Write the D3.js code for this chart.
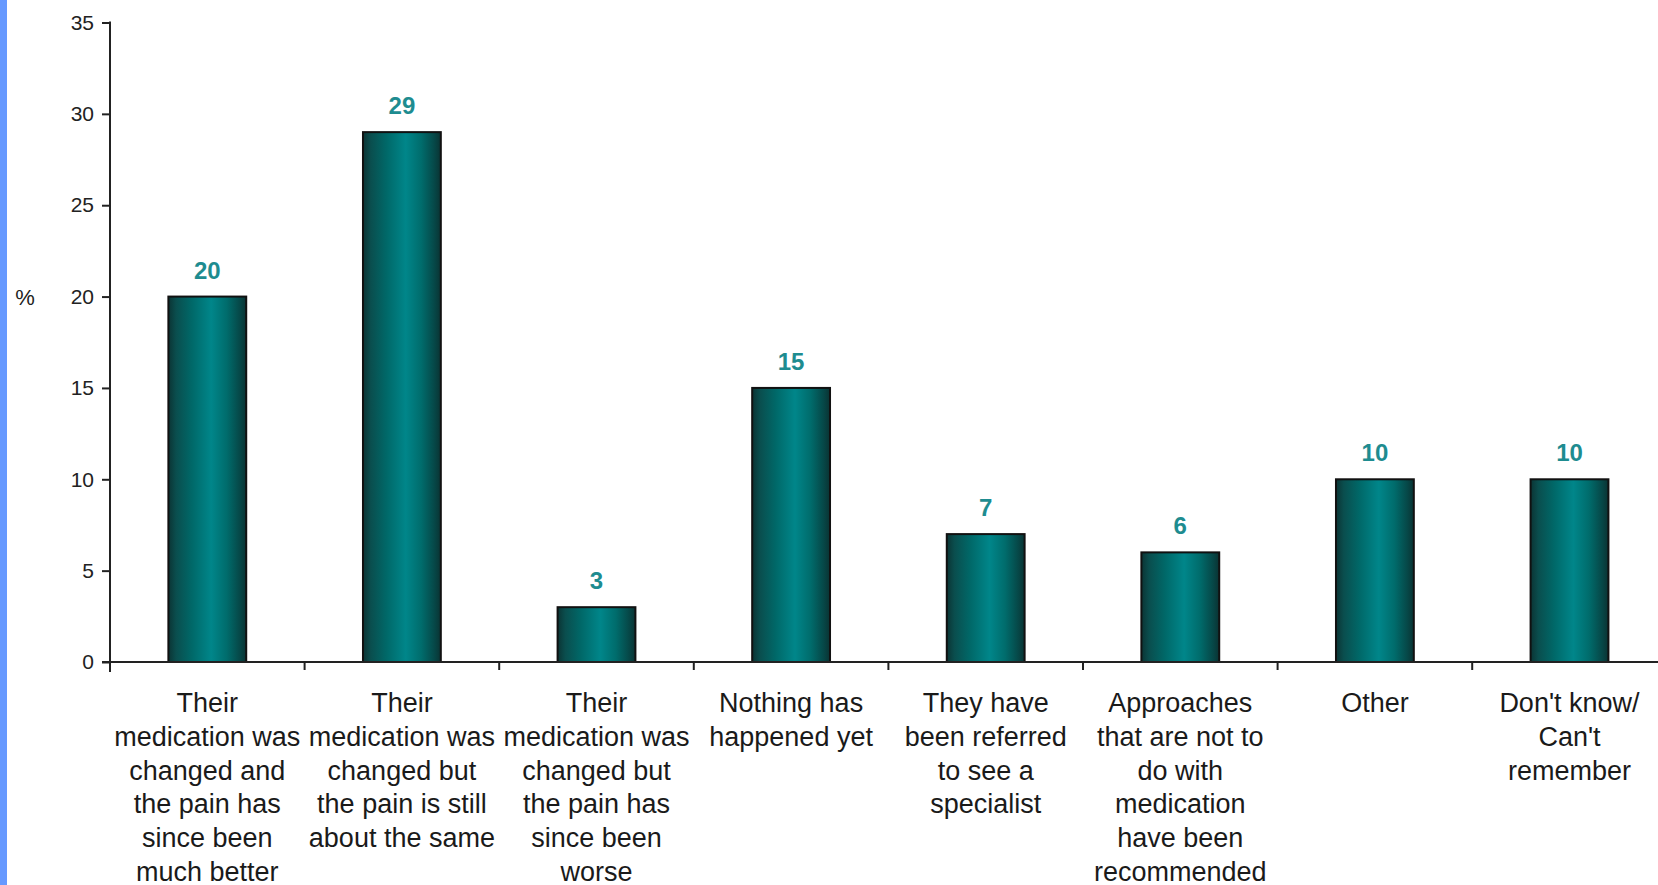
<!DOCTYPE html>
<html>
<head>
<meta charset="utf-8">
<script src="https://cdn.jsdelivr.net/npm/d3@7/dist/d3.min.js"></script>
<style>
  html, body { margin: 0; padding: 0; background: #fff; }
  svg { display: block; }
</style>
</head>
<body>
<script>
const categories = [
  ["Their", "medication was", "changed and", "the pain has", "since been", "much better"],
  ["Their", "medication was", "changed but", "the pain is still", "about the same"],
  ["Their", "medication was", "changed but", "the pain has", "since been", "worse"],
  ["Nothing has", "happened yet"],
  ["They have", "been referred", "to see a", "specialist"],
  ["Approaches", "that are not to", "do with", "medication", "have been", "recommended"],
  ["Other"],
  ["Don't know/", "Can't", "remember"]
];
const values = [20, 29, 3, 15, 7, 6, 10, 10];
const yTicks = [0, 5, 10, 15, 20, 25, 30, 35];
const yLabel = "%";

const W = 1658, H = 885;
const svg = d3.select("body").append("svg").attr("width", W).attr("height", H);
svg.append("rect").attr("width", W).attr("height", H).attr("fill", "#fff");
// left blue strip
svg.append("rect").attr("x", 0).attr("y", 0).attr("width", 7).attr("height", H).attr("fill", "#6699ff");

const x0 = 110, bandW = 194.6;
const x = d3.scaleBand().domain(d3.range(categories.length))
  .range([x0, x0 + bandW * categories.length]).padding(0);
const y = d3.scaleLinear().domain([0, 35]).range([662, 22.5]);

const defs = svg.append("defs");
const g = defs.append("linearGradient").attr("id", "barGrad")
  .attr("x1", "0%").attr("x2", "100%").attr("y1", "0%").attr("y2", "0%");
[[0, "#0b3434"], [0.1, "#0a4e4e"], [0.3, "#006868"], [0.55, "#00868a"],
 [0.75, "#006c6c"], [0.92, "#064747"], [1, "#0a3333"]].forEach(([o, c]) =>
  g.append("stop").attr("offset", o).attr("stop-color", c));

// y axis
const yAxis = d3.axisLeft(y).tickValues(yTicks).tickSize(8).tickPadding(8);
const ya = svg.append("g").attr("transform", `translate(${x0},0)`).call(yAxis);
ya.select(".domain").remove();
ya.selectAll(".tick line").attr("stroke", "#222").attr("stroke-width", 2);
ya.selectAll(".tick text").attr("fill", "#222")
  .style("font-family", "Liberation Sans, Arial, sans-serif").style("font-size", "21px");
svg.append("line").attr("x1", x0).attr("x2", x0)
  .attr("y1", y(35) - 1).attr("y2", y(0) + 10)
  .attr("stroke", "#222").attr("stroke-width", 2);

svg.append("text").attr("x", 25).attr("y", y(20) + 8).attr("text-anchor", "middle")
  .attr("fill", "#222").style("font-family", "Liberation Sans, Arial, sans-serif")
  .style("font-size", "22px").text(yLabel);

// bars
const barW = x.bandwidth() * 0.4;
svg.selectAll("rect.bar").data(values).enter().append("rect")
  .attr("class", "bar")
  .attr("x", (d, i) => x(i) + x.bandwidth() / 2 - barW / 2)
  .attr("y", d => y(d))
  .attr("width", barW)
  .attr("height", d => y(0) - y(d))
  .attr("fill", "url(#barGrad)")
  .attr("stroke", "#111").attr("stroke-width", 2);

// value labels
svg.selectAll("text.val").data(values).enter().append("text")
  .attr("class", "val")
  .attr("x", (d, i) => x(i) + x.bandwidth() / 2)
  .attr("y", d => y(d) - 18)
  .attr("text-anchor", "middle")
  .attr("fill", "#1e8c90")
  .style("font-family", "Liberation Sans, Arial, sans-serif")
  .style("font-size", "24px").style("font-weight", "bold")
  .text(d => d);

// x axis line
svg.append("line").attr("x1", x0 - 8).attr("x2", W)
  .attr("y1", y(0)).attr("y2", y(0)).attr("stroke", "#222").attr("stroke-width", 2);
// x ticks at band boundaries
svg.selectAll("line.xt").data(d3.range(1, categories.length)).enter().append("line")
  .attr("class", "xt")
  .attr("x1", i => x(i)).attr("x2", i => x(i))
  .attr("y1", y(0)).attr("y2", y(0) + 8)
  .attr("stroke", "#222").attr("stroke-width", 2);

// category labels
const lab = svg.selectAll("text.cat").data(categories).enter().append("text")
  .attr("class", "cat")
  .attr("text-anchor", "middle")
  .attr("fill", "#1a1a1a")
  .style("font-family", "Liberation Sans, Arial, sans-serif")
  .style("font-size", "27px");
lab.each(function (lines, i) {
  const t = d3.select(this);
  lines.forEach((ln, j) => {
    t.append("tspan").attr("x", x(i) + x.bandwidth() / 2)
      .attr("y", 712 + j * 33.8).text(ln);
  });
});
</script>
</body>
</html>
